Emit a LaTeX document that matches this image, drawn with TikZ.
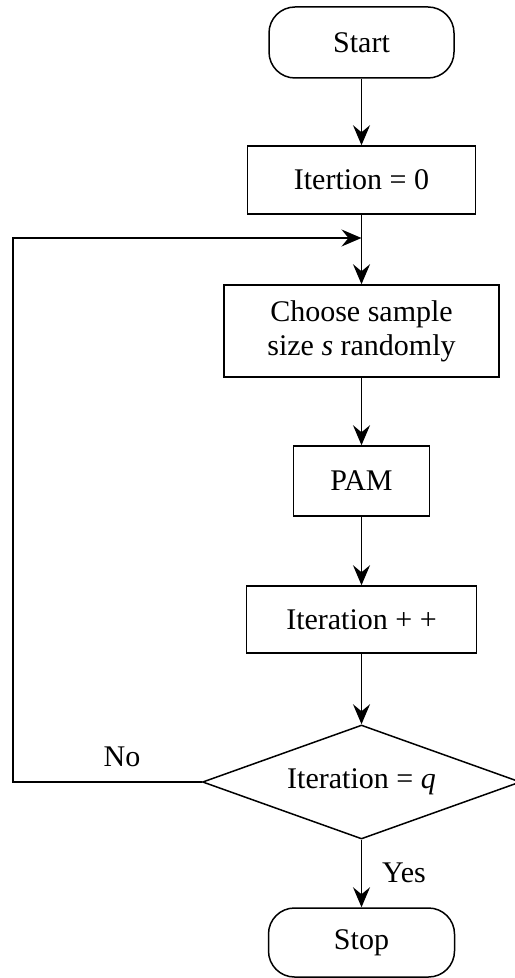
\documentclass[tikz,border=0pt]{standalone}
\usepackage{fontspec}
\setmainfont{Liberation Serif}
\usetikzlibrary{shapes.geometric,arrows.meta}

\begin{document}
\begin{tikzpicture}[x=0.5pt,y=-0.5pt,
  every node/.style={font=\fontsize{15}{18}\selectfont},
  box/.style={draw, line width=0.75pt, inner sep=0pt, align=center},
  terminal/.style={box, rounded corners=13pt},
  decision/.style={draw, line width=0.75pt, diamond, shape aspect=2.8, inner sep=0pt},
  arr/.style={draw, line width=0.75pt, -{Stealth[length=10pt,width=8.5pt,inset=3.5pt]}},
  lbl/.style={inner sep=0pt}]

  \useasboundingbox (0,0) rectangle (514,978);

  % process steps, all on one vertical axis
  \node[terminal, minimum width=92.5pt, minimum height=35.5pt] (start) at (361.5,42.5) {Start};
  \node[box, minimum width=114pt, minimum height=34pt] (init) at (361.5,180) {Itertion = 0};
  \node[box, minimum width=137.5pt, minimum height=46pt] (choose) at (361.5,331)
    {Choose sample\\[-1pt]size \textit{s} randomly};
  \node[box, minimum width=68pt, minimum height=35pt] (pam) at (361.5,481) {PAM};
  \node[box, minimum width=115pt, minimum height=33.5pt] (inc) at (361.5,619.5) {Iteration + +};
  \node[decision, minimum width=159pt, minimum height=57pt] (test) at (361.5,782) {Iteration = \textit{q}};
  \node[terminal, minimum width=93pt, minimum height=34.5pt] (stop) at (361.5,942.5) {Stop};

  % main flow
  \draw[arr] (start) -- (init);
  \draw[arr] (init) -- (choose);
  \draw[arr] (choose) -- (pam);
  \draw[arr] (pam) -- (inc);
  \draw[arr] (inc) -- (test);
  \draw[arr] (test) -- (stop);

  % loop back when the count is not reached
  \coordinate (join) at (361.5,238);
  \coordinate (loopL) at (13,238);
  \draw[arr] (test.west) -| (loopL) -- (join);

  \node[lbl] (no) at (122,757) {No};
  \node[lbl] (yes) at (404,873) {Yes};
\end{tikzpicture}
\end{document}
